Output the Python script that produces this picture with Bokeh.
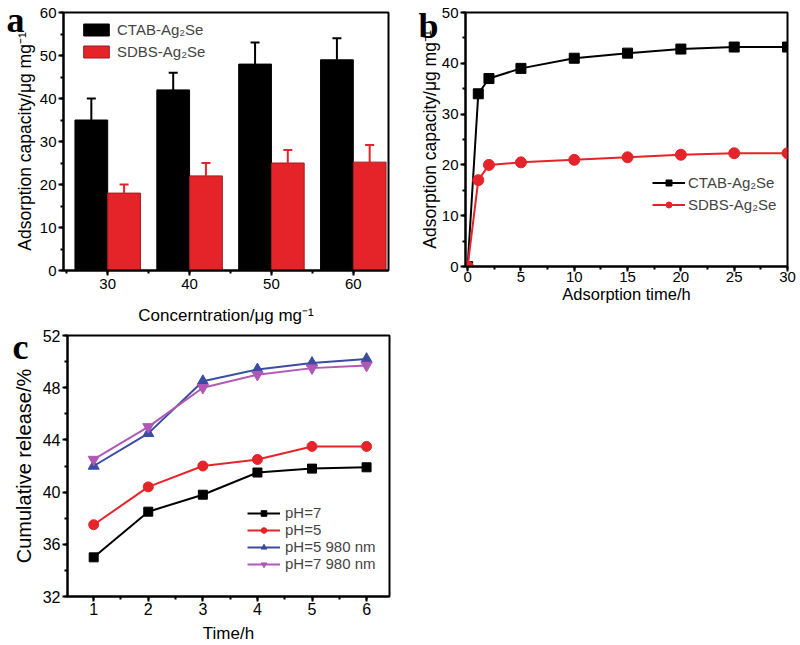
from bokeh.plotting import figure
from bokeh.layouts import column, row
from bokeh.models import (ColumnDataSource, Whisker, Legend, LegendItem,
                          SingleIntervalTicker, Range1d, TeeHead)
from bokeh.core.properties import value
from bokeh.transform import dodge
from bokeh.embed import file_html
from bokeh.resources import INLINE

# ---------------- data ----------------
# panel a
conc = [30, 40, 50, 60]
ctab_cap = [35, 42, 48, 49]
ctab_err = [5, 4, 5, 5]
sdbs_cap = [18, 22, 25, 25.2]
sdbs_err = [2, 3, 3, 4]

# panel b
time_b = [0, 1, 2, 5, 10, 15, 20, 25, 30]
ctab_time = [0, 34, 37, 39, 41, 42, 42.8, 43.2, 43.2]
sdbs_time = [0, 17, 20, 20.5, 21, 21.5, 22, 22.3, 22.3]

# panel c
time_c = [1, 2, 3, 4, 5, 6]
ph7 = [35, 38.5, 39.8, 41.5, 41.8, 41.9]
ph5 = [37.5, 40.4, 42, 42.5, 43.5, 43.5]
ph5_nir = [42, 44.5, 48.5, 49.4, 49.9, 50.2]
ph7_nir = [42.5, 45, 48, 49, 49.5, 49.7]

# panel letters (text, pixel anchor inside the small overlay canvases)
top_letters = ["a", "b"]
top_letters_x = [6, 418]
top_letters_y = [31, 25]

FONT = "Liberation Sans"
RED = "#e5242a"
BLUE = "#3b4ca2"
MAGENTA = "#b058b6"


def style(p, tick_size, title_size, ylab_standoff, xlab_standoff, xtick_standoff):
    p.outline_line_color = "black"
    p.outline_line_width = 2
    p.grid.visible = False
    p.background_fill_color = "white"
    p.border_fill_alpha = 0
    for ax in p.axis:
        ax.axis_line_width = 2
        ax.major_tick_line_width = 2
        ax.minor_tick_line_width = 2
        ax.major_tick_in = 0
        ax.major_tick_out = 5
        ax.minor_tick_in = 0
        ax.minor_tick_out = 3
        ax.major_label_text_font = FONT
        ax.major_label_text_font_size = tick_size
        ax.major_label_text_color = "black"
        ax.axis_label_text_font = FONT
        ax.axis_label_text_font_style = "normal"
        ax.axis_label_text_color = "black"
        ax.major_label_standoff = 2
    p.xaxis.axis_label_text_font_size = title_size[0]
    p.yaxis.axis_label_text_font_size = title_size[1]
    p.yaxis.axis_label_standoff = ylab_standoff
    p.xaxis.axis_label_standoff = xlab_standoff
    p.xaxis.major_label_standoff = xtick_standoff


def letter_canvas(w, h, letters, xs, ys):
    f = figure(width=w, height=h, output_backend="svg", toolbar_location=None,
               x_range=Range1d(0, w), y_range=Range1d(0, h), min_border=0,
               x_axis_location=None, y_axis_location=None)
    f.outline_line_color = None
    f.grid.visible = False
    f.background_fill_alpha = 0
    f.border_fill_alpha = 0
    f.text(x=xs, y=ys, text=letters, text_font=value("Liberation Serif"),
           text_font_style="bold", text_font_size="36px", text_color="black",
           text_baseline="alphabetic", text_align="left")
    return f


# ---------------- panel a ----------------
pa = figure(width=400, height=338, output_backend="svg", toolbar_location=None,
            x_range=Range1d(24.6, 64.3), y_range=Range1d(0, 60),
            min_border_left=63, min_border_right=12, min_border_top=12, min_border_bottom=68)
src_a = ColumnDataSource(dict(conc=conc, ctab=ctab_cap, sdbs=sdbs_cap,
                              ctab_top=[v + e for v, e in zip(ctab_cap, ctab_err)],
                              sdbs_top=[v + e for v, e in zip(sdbs_cap, sdbs_err)]))
wa = Whisker(source=src_a, base=dodge("conc", -2), lower="ctab", upper="ctab_top",
             line_color="black", line_width=2, lower_head=None,
             upper_head=TeeHead(size=9, line_width=2, line_color="black"), level="overlay")
wb = Whisker(source=src_a, base=dodge("conc", 2), lower="sdbs", upper="sdbs_top",
             line_color=RED, line_width=2, lower_head=None,
             upper_head=TeeHead(size=9, line_width=2, line_color=RED), level="overlay")
pa.add_layout(wa)
pa.add_layout(wb)
rb1 = pa.vbar(x=dodge("conc", -2), top="ctab", width=4, source=src_a,
              fill_color="black", line_color="black")
rb2 = pa.vbar(x=dodge("conc", 2), top="sdbs", width=4, source=src_a,
              fill_color=RED, line_color="#a01a1e")
pa.xaxis.ticker = SingleIntervalTicker(interval=10, num_minor_ticks=2)
pa.yaxis.ticker = SingleIntervalTicker(interval=10, num_minor_ticks=2)
pa.xaxis.axis_label = "Concerntration/μg mg⁻¹"
pa.yaxis.axis_label = "Adsorption capacity/μg mg⁻¹"
style(pa, "15px", ("17px", "17.5px"), 2, 14, 3)
leg_a = Legend(items=[LegendItem(label="CTAB-Ag₂Se", renderers=[rb1]),
                      LegendItem(label="SDBS-Ag₂Se", renderers=[rb2])],
               location=(17, 210), padding=0, margin=0, border_line_color=None,
               background_fill_alpha=0, glyph_width=32, glyph_height=15,
               label_height=15, spacing=5, label_standoff=5,
               label_text_font=FONT, label_text_font_size="15px")
pa.add_layout(leg_a)

# ---------------- panel b ----------------
pb = figure(width=400, height=338, output_backend="svg", toolbar_location=None,
            x_range=Range1d(-0.2, 30), y_range=Range1d(0, 50),
            min_border_left=65, min_border_right=13, min_border_top=12, min_border_bottom=72)
l1 = pb.line(time_b, ctab_time, line_color="black", line_width=2)
s1 = pb.scatter(time_b, ctab_time, marker="square", size=10, color="black")
l2 = pb.line(time_b, sdbs_time, line_color=RED, line_width=2)
s2 = pb.scatter(time_b, sdbs_time, marker="circle", size=11, color=RED)
pb.xaxis.ticker = SingleIntervalTicker(interval=5, num_minor_ticks=2)
pb.yaxis.ticker = SingleIntervalTicker(interval=10, num_minor_ticks=2)
pb.xaxis.axis_label = "Adsorption time/h"
pb.yaxis.axis_label = "Adsorption capacity/μg mg⁻¹"
style(pb, "15px", ("16.5px", "17.5px"), -1, 0, 0)
leg_b = Legend(items=[LegendItem(label="CTAB-Ag₂Se", renderers=[l1, s1]),
                      LegendItem(label="SDBS-Ag₂Se", renderers=[l2, s2])],
               location=(187, 53), padding=0, margin=0, border_line_color=None,
               background_fill_alpha=0, glyph_width=33, glyph_height=15,
               label_height=15, spacing=5, label_standoff=3,
               label_text_font=FONT, label_text_font_size="15px")
pb.add_layout(leg_b)

# ---------------- panel c ----------------
pc = figure(width=400, height=319, output_backend="svg", toolbar_location=None,
            x_range=Range1d(0.52, 6.42), y_range=Range1d(32, 52),
            min_border_left=67, min_border_right=11, min_border_top=9, min_border_bottom=49)
series = [("pH=7", ph7, "black", "square", 9),
          ("pH=5", ph5, RED, "circle", 10),
          ("pH=5 980 nm", ph5_nir, BLUE, "triangle", 11),
          ("pH=7 980 nm", ph7_nir, MAGENTA, "inverted_triangle", 11)]
items_c = []
for name, ys, col, mk, sz in series:
    ln = pc.line(time_c, ys, line_color=col, line_width=2)
    sc = pc.scatter(time_c, ys, marker=mk, size=sz, color=col)
    items_c.append(LegendItem(label=name, renderers=[ln, sc]))
pc.xaxis.ticker = SingleIntervalTicker(interval=1, num_minor_ticks=2)
pc.yaxis.ticker = SingleIntervalTicker(interval=4, num_minor_ticks=2)
pc.xaxis.axis_label = "Time/h"
pc.yaxis.axis_label = "Cumulative release/%"
style(pc, "16px", ("17px", "20px"), 5, 6, 1)
leg_c = Legend(items=items_c, location=(180, 24), padding=0, margin=0,
               border_line_color=None, background_fill_alpha=0, glyph_width=33,
               glyph_height=14, label_height=14, spacing=0, label_standoff=5,
               label_text_font=FONT, label_text_font_size="15px")
pc.add_layout(leg_c)

# ---------------- panel letters (transparent overlay canvases) ----------------
lab = letter_canvas(800, 50, top_letters, top_letters_x, top_letters_y)
lc = letter_canvas(40, 50, ["c"], [12], [34])

layout = column(row(lab, margin=(0, 0, -50, 0)),
                row(column(pa), column(pb)),
                row(lc, margin=(-8, 0, 0, 0)),
                row(pc, margin=(-54, 0, 0, 0)))
open("out.html", "w").write(file_html(layout, INLINE))
